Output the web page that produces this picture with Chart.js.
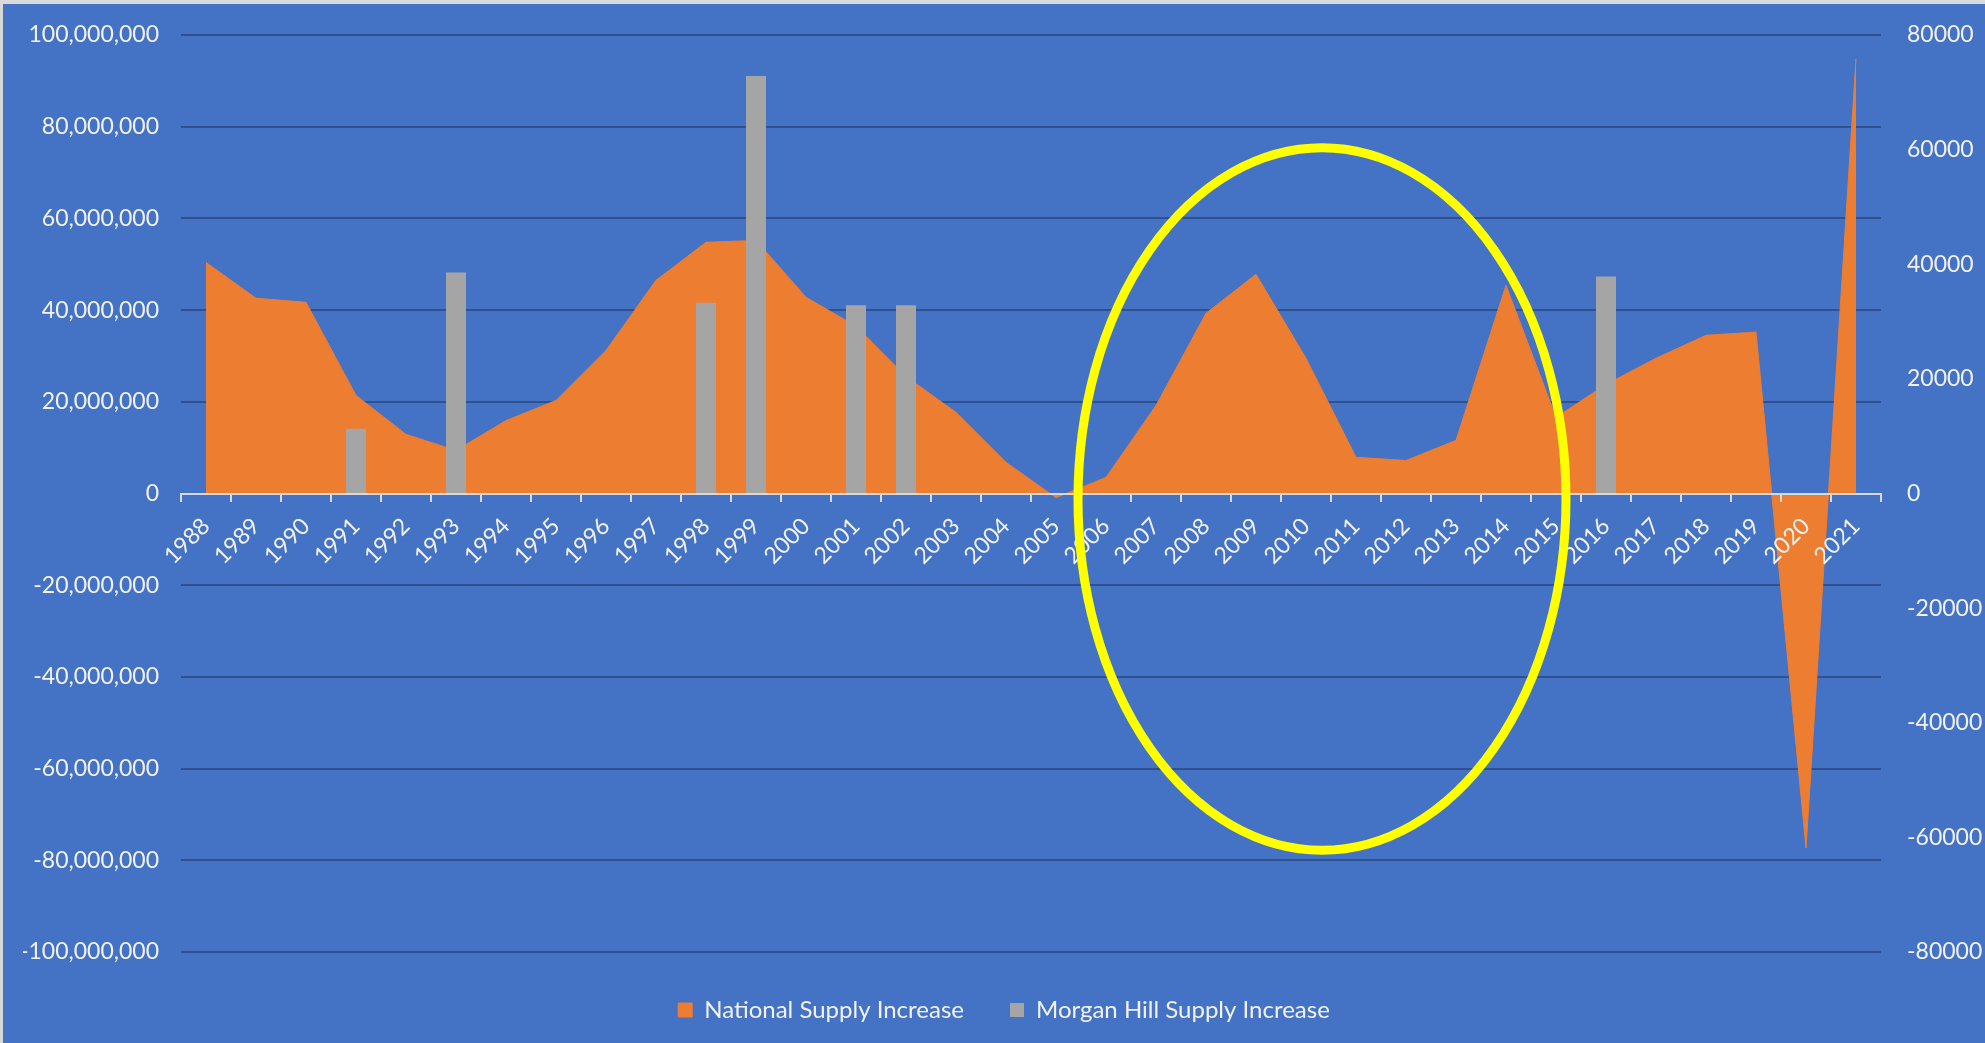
<!DOCTYPE html>
<html>
<head>
<meta charset="utf-8">
<title>National vs Morgan Hill Supply Increase</title>
<script src="https://cdn.jsdelivr.net/npm/chart.js@4.4.0/dist/chart.umd.min.js"></script>
<style>
  html, body { margin: 0; padding: 0; background: #d9d9d9; overflow: hidden; }
  #wrap { position: absolute; left: 3px; top: 4px; width: 1982px; height: 1039px; background: #4472c4; }
</style>
</head>
<body>
<div id="wrap"><canvas id="supplyChart"></canvas></div>
<script>
const years = ['1988', '1989', '1990', '1991', '1992', '1993', '1994', '1995', '1996', '1997',
               '1998', '1999', '2000', '2001', '2002', '2003', '2004', '2005', '2006', '2007',
               '2008', '2009', '2010', '2011', '2012', '2013', '2014', '2015', '2016', '2017',
               '2018', '2019', '2020', '2021'];

// left axis
const nationalIncrease = [50400000, 42600000, 41700000, 21400000, 12900000, 9400000, 15900000, 20300000, 31200000, 46500000,
                          54800000, 55200000, 42800000, 36500000, 25500000, 17700000, 6800000, -900000, 3500000, 19200000,
                          39300000, 47800000, 29500000, 7900000, 7200000, 11600000, 45400000, 16600000, 23800000, 29500000,
                          34500000, 35200000, -77300000, 94800000];

// right axis
const morganHillIncrease = [null, null, null, 11300, null, 38550, null, null, null, null,
                            33300, 72850, null, 32850, 32850, null, null, null, null, null,
                            null, null, null, null, null, null, null, null, 37850, null,
                            null, null, null, null];

const leftRange = [-100000000, 100000000];
const leftStep = 20000000;
const rightRange = [-80000, 80000];
const rightStep = 20000;

// yellow circle drawn over 2006-2015
const highlightYears = [2005.44, 2015.2];
const highlightValues = [-77800000, 75400000];

const textColor = '#f2f2f2';
const tickFont = { family: 'Lato', size: 23 };
const legendFont = { family: 'Lato', size: 24 };

const highlightPlugin = {
    id: 'highlight',
    afterDraw(chart) {
        const { ctx, scales } = chart;
        const x1 = scales.x.getPixelForValue(highlightYears[0] - 1988);
        const x2 = scales.x.getPixelForValue(highlightYears[1] - 1988);
        const y1 = scales.y.getPixelForValue(highlightValues[0]);
        const y2 = scales.y.getPixelForValue(highlightValues[1]);
        ctx.save();
        ctx.beginPath();
        ctx.ellipse((x1 + x2) / 2, (y1 + y2) / 2, Math.abs(x2 - x1) / 2, Math.abs(y2 - y1) / 2, 0, 0, Math.PI * 2);
        ctx.strokeStyle = '#ffff00';
        ctx.lineWidth = 9;
        ctx.stroke();
        ctx.restore();
    }
};

// fixed axis widths, and don't let tick padding push the chart area down
function fixAxis(width) {
    return (scale) => {
        scale.width = width;
        scale.paddingTop = 0;
        scale.paddingBottom = 0;
    };
}

const ctx = document.getElementById('supplyChart').getContext('2d');

new Chart(ctx, {
    type: 'bar',
    data: {
        labels: years,
        datasets: [
            {
                type: 'line',
                label: 'National Supply Increase',
                data: nationalIncrease,
                backgroundColor: '#ed7d31',
                borderColor: '#ed7d31',
                borderWidth: 1,
                pointRadius: 0,
                fill: 'origin',
                tension: 0,
                yAxisID: 'y',
                order: 1
            },
            {
                type: 'bar',
                label: 'Morgan Hill Supply Increase',
                data: morganHillIncrease,
                backgroundColor: '#a5a5a5',
                borderWidth: 0,
                barPercentage: 0.4,
                categoryPercentage: 1,
                yAxisID: 'y1',
                order: 0
            }
        ]
    },
    options: {
        responsive: true,
        maintainAspectRatio: false,
        animation: false,
        layout: { padding: { left: 20, right: 0, top: 31, bottom: 11 } },
        plugins: {
            legend: {
                position: 'bottom',
                labels: {
                    color: textColor,
                    font: legendFont,
                    boxWidth: 14,
                    boxHeight: 14,
                    padding: 46,
                    sort: (a, b) => a.datasetIndex - b.datasetIndex
                }
            },
            tooltip: { enabled: false }
        },
        scales: {
            x: {
                position: { y: 0 },
                offset: true,
                grid: { offset: true, drawOnChartArea: false, drawTicks: true, tickLength: 7, color: '#d9d9d9', lineWidth: 2, z: 1 },
                border: { display: true, color: '#d9d9d9', width: 2, z: 1 },
                ticks: { color: textColor, font: tickFont, minRotation: 45, maxRotation: 45, autoSkip: false, padding: 12, z: 1 }
            },
            y: {
                position: 'left',
                min: leftRange[0],
                max: leftRange[1],
                grid: { color: '#2f528f', lineWidth: 2, drawTicks: false },
                border: { display: false },
                ticks: {
                    stepSize: leftStep,
                    color: textColor,
                    font: tickFont,
                    padding: 22,
                    callback: (v) => v.toLocaleString('en-US')
                },
                afterFit: fixAxis(158)
            },
            y1: {
                position: 'right',
                min: rightRange[0],
                max: rightRange[1],
                grid: { drawOnChartArea: false, drawTicks: false },
                border: { display: false },
                ticks: {
                    stepSize: rightStep,
                    color: textColor,
                    font: tickFont,
                    padding: 26,
                    callback: (v) => String(v)
                },
                afterFit: fixAxis(104)
            }
        }
    },
    plugins: [highlightPlugin]
});
</script>
</body>
</html>
